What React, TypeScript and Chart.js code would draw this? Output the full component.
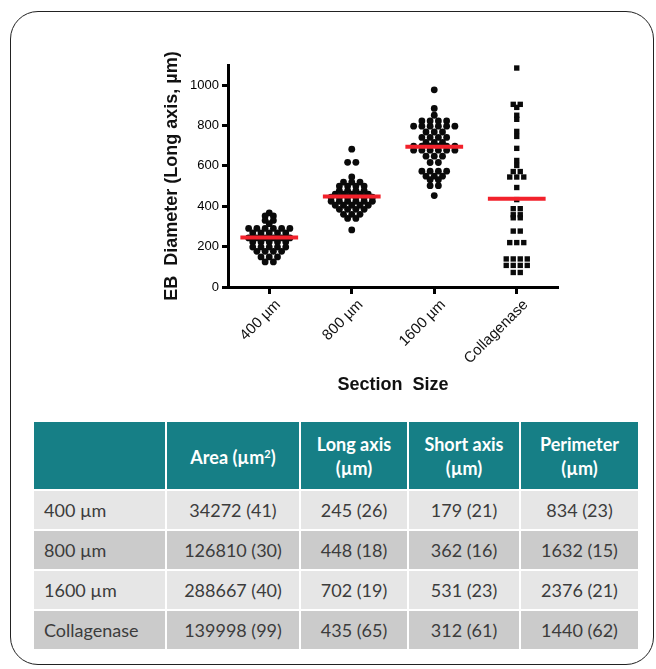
import React, { useEffect, useRef } from "react";
import { Chart, registerables } from "chart.js";

Chart.register(...registerables);

// ---------- data ----------
const categories = ["400 µm", "800 µm", "1600 µm", "Collagenase"];
const yTicks = [0, 200, 400, 600, 800, 1000];

// EB long-axis diameters (µm), read row by row (Prism-style binned rows)
const g400 = [
  367, 352, 352, 330, 330, 314,
  290, 290, 290, 290, 290, 290,
  268, 268, 268, 268, 268,
  243, 243, 243, 243, 243, 243,
  223, 223, 223, 223, 223,
  198, 198, 198, 198, 198,
  177, 177, 177, 177,
  149, 149, 149,
  124, 124,
];
const g800 = [
  683, 618, 618, 545,
  520, 520, 520,
  500, 500, 500, 500,
  478, 478, 478, 478,
  460, 460, 460, 460, 460,
  445, 445, 445, 445, 445, 445,
  425, 425, 425, 425, 425, 425,
  405, 405, 405, 405, 405,
  385, 385, 385, 385,
  360, 360, 360,
  340, 340,
  283,
];
const g1600 = [
  977, 885, 851,
  823, 823, 823, 823,
  797, 797, 797, 797, 797, 797,
  768, 768, 768,
  741, 741, 741, 741,
  716, 716, 716,
  698, 698, 698, 698, 698, 698,
  678, 678, 678, 678, 678, 678,
  648, 648, 648,
  617, 617,
  574, 574, 574, 574,
  549, 549, 549,
  532, 532,
  502, 502,
  453,
];
const gColl = [
  1085, 905, 905, 890, 851, 831, 771, 746, 687, 627, 602,
  572, 572, 545, 545, 545, 493, 433,
  388, 388, 358, 358, 343, 343, 277, 277,
  220, 220, 220,
  139, 139, 139, 139,
  107, 107, 107, 107,
  72, 72,
];
const means = [245, 448, 695, 437];

// table
const tableHeaders = ["", "Area (µm²)", "Long axis (µm)", "Short axis (µm)", "Perimeter (µm)"];
const tableRowLabels = ["400 µm", "800 µm", "1600 µm", "Collagenase"];
const areaCol = ["34272 (41)", "126810 (30)", "288667 (40)", "139998 (99)"];
const longCol = ["245 (26)", "448 (18)", "702 (19)", "435 (65)"];
const shortCol = ["179 (21)", "362 (16)", "531 (23)", "312 (61)"];
const perimCol = ["834 (23)", "1632 (15)", "2376 (21)", "1440 (62)"];

// ---------- helpers ----------
function swarm(values: number[], center: number, spacing: number) {
  const counts = new Map<number, number>();
  values.forEach((v) => counts.set(v, (counts.get(v) || 0) + 1));
  const seen = new Map<number, number>();
  return values.map((v) => {
    const n = counts.get(v) || 1;
    const i = seen.get(v) || 0;
    seen.set(v, i + 1);
    return { x: center + (i - (n - 1) / 2) * spacing, y: v };
  });
}

const FAMILY = "'Liberation Sans', Arial, sans-serif";

function ChartPart() {
  const ref = useRef<HTMLCanvasElement | null>(null);
  useEffect(() => {
    if (!ref.current) return;
    const groups = [g400, g800, g1600, gColl];
    const pointSets = groups.map((g, i) => ({
      type: "scatter" as const,
      data: swarm(g, i + 1, i === 3 ? 0.085 : 0.1),
      pointStyle: i === 3 ? "rect" : "circle",
      pointRadius: i === 3 ? 3.8 : 3.4,
      pointHoverRadius: i === 3 ? 3.8 : 3.4,
      backgroundColor: "#0a0a0a",
      borderColor: "#0a0a0a",
      borderWidth: 0,
      showLine: false,
      order: 1,
    }));
    const lineSets = means.map((m, i) => ({
      type: "scatter" as const,
      data: [
        { x: i + 1 - 0.35, y: m },
        { x: i + 1 + 0.35, y: m },
      ],
      showLine: true,
      borderColor: "#f2212b",
      borderWidth: 4,
      pointRadius: 0,
      pointHoverRadius: 0,
      order: 0,
    }));
    const chart = new Chart(ref.current, {
      type: "scatter",
      data: { datasets: [...lineSets, ...pointSets] as any },
      options: {
        animation: false,
        responsive: false,
        maintainAspectRatio: false,
        layout: { padding: { top: 25, right: 11, left: 0, bottom: 0 } },
        plugins: { legend: { display: false }, tooltip: { enabled: false } },
        scales: {
          x: {
            type: "linear",
            min: 0.5,
            max: 4.5,
            afterBuildTicks: (s: any) => {
              s.ticks = categories.map((_, i) => ({ value: i + 1 }));
            },
            afterFit: (s: any) => {
              s.height = 113;
            },
            ticks: {
              callback: (v: any) => categories[Math.round(Number(v)) - 1] ?? "",
              minRotation: 45,
              maxRotation: 45,
              autoSkip: false,
              font: { family: FAMILY, size: 15 },
              color: "#111",
              padding: 2,
              labelOffset: 9,
            },
            grid: {
              display: true,
              drawOnChartArea: false,
              drawTicks: true,
              tickLength: 7,
              tickWidth: 3,
              tickColor: "#000",
            },
            border: { display: true, color: "#000", width: 3 },
            title: {
              display: true,
              text: "Section  Size",
              font: { family: FAMILY, size: 18, weight: "bold" },
              color: "#111",
              padding: { top: 4, bottom: 4 },
            },
          },
          y: {
            type: "linear",
            min: 0,
            max: 1100,
            afterBuildTicks: (s: any) => {
              s.ticks = yTicks.map((v) => ({ value: v }));
            },
            afterFit: (s: any) => {
              s.width = 71;
            },
            ticks: {
              font: { family: FAMILY, size: 13 },
              color: "#000",
              padding: 3,
              callback: (v: any) => String(v),
            },
            grid: {
              display: true,
              drawOnChartArea: false,
              drawTicks: true,
              tickLength: 6,
              tickWidth: 3,
              tickColor: "#000",
            },
            border: { display: true, color: "#000", width: 3 },
            title: {
              display: true,
              text: "EB  Diameter (Long axis, µm)",
              font: { family: FAMILY, size: 18, weight: "bold" },
              color: "#111",
              padding: { top: 4, bottom: 4 },
            },
          },
        },
      } as any,
    });
    return () => chart.destroy();
  }, []);
  return (
    <canvas
      ref={ref}
      width={412}
      height={360}
      style={{ position: "absolute", left: 157, top: 40, width: 412, height: 360 }}
    />
  );
}

export default function App() {
  const colWidths = [133, 134, 108, 112, 119];
  const rows = tableRowLabels.map((l, i) => [l, areaCol[i], longCol[i], shortCol[i], perimCol[i]]);
  const headerCell: React.CSSProperties = {
    background: "#167f86",
    color: "#fff",
    fontWeight: 700,
    fontSize: 18,
    lineHeight: "24px",
    textAlign: "center",
    border: "2px solid #fff",
    padding: "0 4px",
    height: 69,
    boxSizing: "border-box",
  };
  return (
    <div
      style={{
        position: "absolute",
        left: 0,
        top: 0,
        width: 656,
        height: 669,
        background: "#fff",
        fontFamily: "Lato, 'Open Sans', sans-serif",
        overflow: "hidden",
      }}
    >
      <div
        style={{
          position: "absolute",
          left: 10,
          top: 11,
          width: 644,
          height: 654,
          border: "1.5px solid #222",
          borderRadius: 28,
          boxSizing: "border-box",
        }}
      />
      <ChartPart />
      <table
        style={{
          position: "absolute",
          left: 32,
          top: 420,
          width: 608,
          borderCollapse: "collapse",
          tableLayout: "fixed",
        }}
      >
        <colgroup>
          {colWidths.map((w, i) => (
            <col key={i} style={{ width: w }} />
          ))}
        </colgroup>
        <thead>
          <tr>
            {tableHeaders.map((h, i) => {
              let content: React.ReactNode = h;
              if (h === "Area (µm²)") {
                content = (
                  <span>
                    Area (µm<sup style={{ fontSize: 11, verticalAlign: 6 }}>2</sup>)
                  </span>
                );
              } else if (h.includes(" (")) {
                const idx = h.indexOf(" (");
                content = (
                  <span>
                    {h.slice(0, idx)}
                    <br />
                    {h.slice(idx + 1)}
                  </span>
                );
              }
              return (
                <th key={i} style={headerCell}>
                  {content}
                </th>
              );
            })}
          </tr>
        </thead>
        <tbody>
          {rows.map((r, ri) => (
            <tr key={ri}>
              {r.map((c, ci) => (
                <td
                  key={ci}
                  style={{
                    background: ri % 2 === 0 ? "#e6e6e6" : "#cbcbcb",
                    color: "#3c3c3c",
                    fontSize: 18,
                    height: 40,
                    boxSizing: "border-box",
                    border: "2px solid #fff",
                    textAlign: ci === 0 ? "left" : "center",
                    padding: ci === 0 ? "0 0 0 10px" : 0,
                    whiteSpace: "nowrap",
                  }}
                >
                  {c}
                </td>
              ))}
            </tr>
          ))}
        </tbody>
      </table>
    </div>
  );
}
